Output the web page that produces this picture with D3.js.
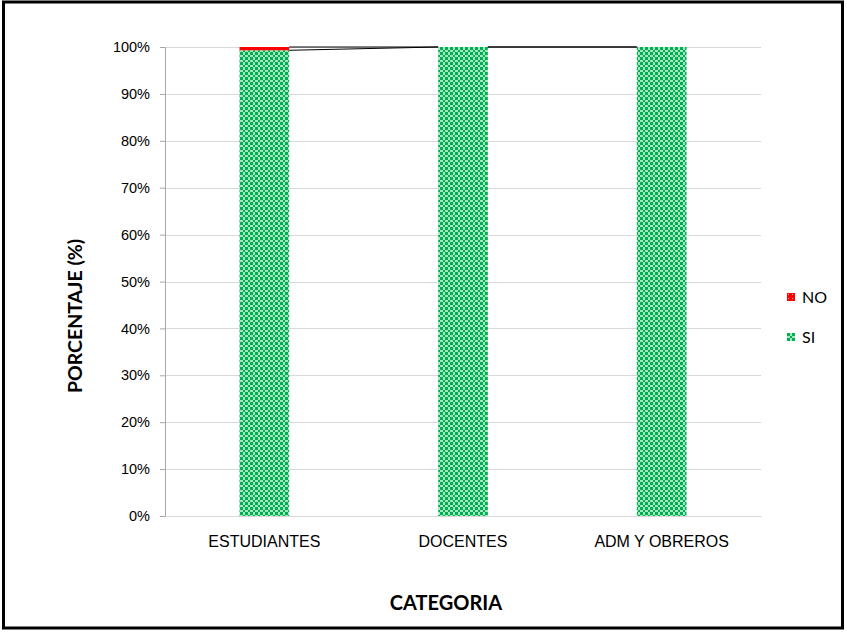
<!DOCTYPE html>
<html>
<head>
<meta charset="utf-8">
<script src="https://cdn.jsdelivr.net/npm/d3@7"></script>
<style>
    body { margin: 0; background: #fff; }
    svg { font-family: Lato, "Open Sans", sans-serif; }
</style>
</head>
<body>
<script>
(function () {

    // Data
    var categories = ["ESTUDIANTES", "DOCENTES", "ADM Y OBREROS"];
    var siValues = [99.3, 100, 100];
    var noValues = [0.7, 0, 0];
    var yTicks = [0, 10, 20, 30, 40, 50, 60, 70, 80, 90, 100];

    // Colors
    var siColor = "#00b050";
    var noColor = "#ff0000";

    var W = 847, H = 632;
    var margin = {top: 47, right: 86, bottom: 116, left: 165},
        width = 761 - margin.left,
        height = 516 - margin.top;

    var root = d3.select("body").append("svg")
        .attr("width", W)
        .attr("height", H);

    // Checker pattern for SI
    var defs = root.append("defs");
    var pat = defs.append("pattern")
        .attr("id", "checker")
        .attr("patternUnits", "userSpaceOnUse")
        .attr("width", 5)
        .attr("height", 5);
    pat.append("rect").attr("width", 5).attr("height", 5).attr("fill", "#fff");
    pat.append("rect").attr("width", 3).attr("height", 3).attr("fill", siColor);
    pat.append("rect").attr("x", 3).attr("y", 3).attr("width", 2).attr("height", 2).attr("fill", siColor);
    pat.append("rect").attr("x", 3).attr("y", 0).attr("width", 2).attr("height", 3).attr("fill", siColor).attr("opacity", 0.35);
    pat.append("rect").attr("x", 0).attr("y", 3).attr("width", 3).attr("height", 2).attr("fill", siColor).attr("opacity", 0.35);

    var patNo = defs.append("pattern")
        .attr("id", "checkerNo")
        .attr("patternUnits", "userSpaceOnUse")
        .attr("width", 4)
        .attr("height", 4);
    patNo.append("rect").attr("width", 4).attr("height", 4).attr("fill", noColor);
    patNo.append("rect").attr("x", 1).attr("y", 1).attr("width", 1).attr("height", 1).attr("fill", "#ffb0b0");

    // Outer frame
    root.append("rect")
        .attr("x", 3.5).attr("y", 2)
        .attr("width", 839).attr("height", 626)
        .attr("fill", "none")
        .attr("stroke", "#000")
        .attr("stroke-width", 3);

    var svg = root.append("g")
        .attr("transform", "translate(" + margin.left + "," + margin.top + ")");

    var x = d3.scaleBand()
        .domain(categories)
        .range([0, width])
        .paddingInner(0.75)
        .paddingOuter(0.375);

    var y = d3.scaleLinear()
        .domain([0, 100])
        .range([height, 0]);

    // Gridlines
    svg.selectAll(".grid")
        .data(yTicks.slice(1))
        .enter().append("line")
        .attr("x1", 0)
        .attr("x2", width)
        .attr("y1", function (d) { return Math.round(y(d)) + 0.5; })
        .attr("y2", function (d) { return Math.round(y(d)) + 0.5; })
        .attr("stroke", "#d9d9d9");

    // Bars
    var bw = x.bandwidth();
    svg.selectAll(".si")
        .data(categories)
        .enter().append("rect")
        .attr("x", function (d) { return x(d); })
        .attr("y", function (d, i) { return y(siValues[i]); })
        .attr("width", bw)
        .attr("height", function (d, i) { return height - y(siValues[i]); })
        .attr("fill", "url(#checker)");

    svg.selectAll(".no")
        .data(categories)
        .enter().append("rect")
        .attr("x", function (d) { return x(d); })
        .attr("y", function (d, i) { return y(siValues[i] + noValues[i]); })
        .attr("width", bw)
        .attr("height", function (d, i) { return y(siValues[i]) - y(siValues[i] + noValues[i]); })
        .attr("fill", noColor);

    // Series lines
    var seriesLine = d3.line()
        .x(function (d) { return d[0]; })
        .y(function (d) { return d[1]; });
    for (var i = 0; i < categories.length - 1; i++) {
        var x0 = x(categories[i]) + bw, x1 = x(categories[i + 1]);
        svg.append("path")
            .attr("d", seriesLine([[x0, y(siValues[i])], [x1, y(siValues[i + 1])]]))
            .attr("stroke", "#000").attr("fill", "none");
        svg.append("path")
            .attr("d", seriesLine([[x0, y(siValues[i] + noValues[i])], [x1, y(siValues[i + 1] + noValues[i + 1])]]))
            .attr("stroke", "#000").attr("fill", "none");
    }

    // Axes
    var yAxis = svg.append("g")
        .call(d3.axisLeft(y).tickValues(yTicks).tickSize(5).tickFormat(function (d) { return d + "%"; }));
    yAxis.select(".domain").attr("stroke", "#a6a6a6");
    yAxis.selectAll(".tick line").attr("stroke", "#a6a6a6");
    yAxis.selectAll("text").style("font-size", "14.5px").attr("fill", "#000").attr("x", -15);

    var xAxis = svg.append("g")
        .attr("transform", "translate(0," + height + ")")
        .call(d3.axisBottom(x).tickSize(0));
    xAxis.select(".domain").attr("stroke", "#d9d9d9");
    xAxis.selectAll("text").style("font-size", "16px").attr("fill", "#000").attr("dy", "1.75em");

    // Axis titles
    root.append("text")
        .attr("x", 446)
        .attr("y", 610)
        .attr("text-anchor", "middle")
        .style("font-size", "20px")
        .style("font-weight", "bold")
        .text("CATEGORIA");

    root.append("text")
        .attr("transform", "translate(82,316) rotate(-90)")
        .attr("text-anchor", "middle")
        .style("font-size", "19.5px")
        .style("font-weight", "bold")
        .text("PORCENTAJE (%)");

    // Legend
    var legendItems = [["NO", "url(#checkerNo)"], ["SI", "url(#checker)"]];
    var legend = root.selectAll(".legend")
        .data(legendItems)
        .enter().append("g")
        .attr("transform", function (d, i) { return "translate(787," + (293 + i * 40) + ")"; });
    legend.append("rect")
        .attr("width", 8).attr("height", 8)
        .attr("fill", function (d) { return d[1]; });
    legend.append("text")
        .attr("x", 15).attr("y", 10)
        .style("font-size", "16px")
        .text(function (d) { return d[0]; });

})();
</script>
</body>
</html>
